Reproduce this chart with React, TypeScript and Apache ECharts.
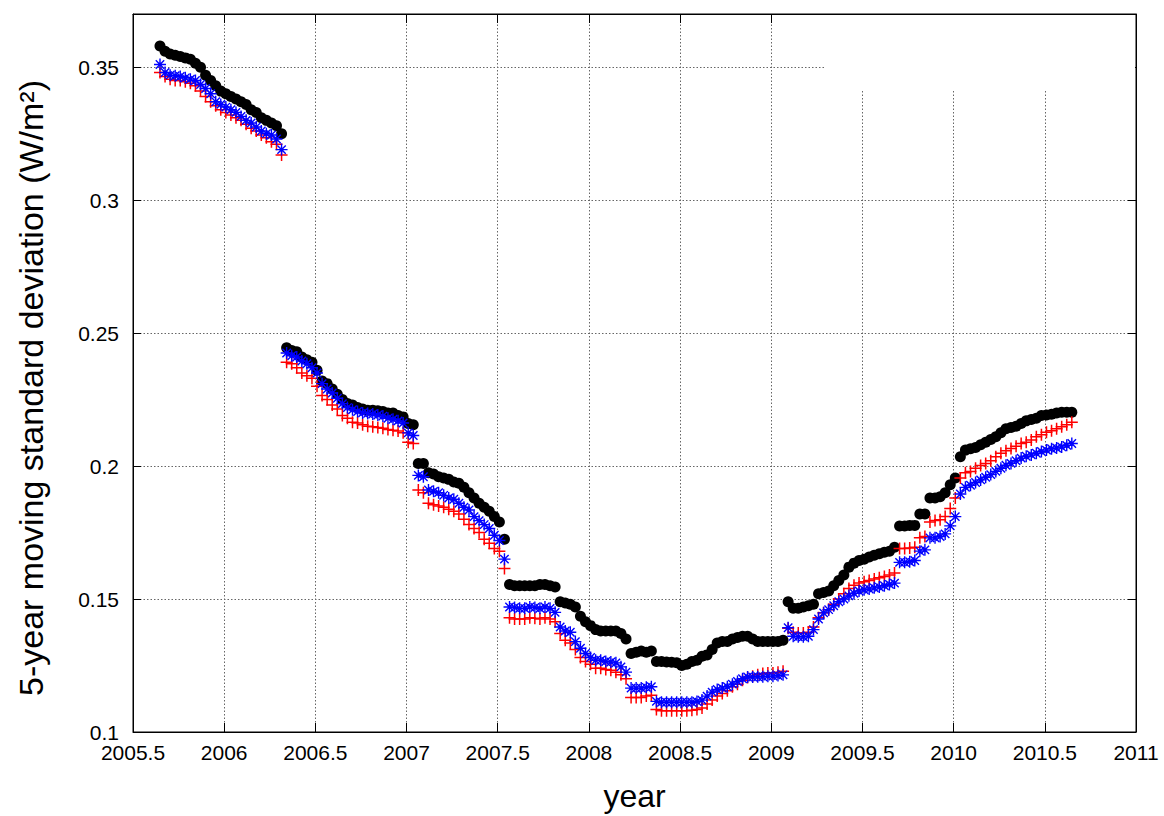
import React, { useEffect, useRef } from "react";
import * as echarts from "echarts";

// time axis: dekadal samples (36 per year) starting at START_YEAR
const START_YEAR = 2005.648;
const STEP_YEAR = 1 / 36;

// black filled circles
const seriesBlack = [
  0.358, 0.356, 0.355, 0.3545, 0.354, 0.3535, 0.353, 0.3515, 0.35, 0.347, 0.345, 0.343, 0.341, 0.34, 0.339, 0.338, 0.337, 0.336, 0.334, 0.333, 0.331, 0.33, 0.329, 0.328, 0.325,
  0.2445, 0.2435, 0.243, 0.241, 0.24, 0.239, 0.236, 0.232, 0.231, 0.229, 0.227, 0.225, 0.2235, 0.223, 0.222, 0.2215, 0.221, 0.221, 0.2208, 0.2205, 0.22, 0.22, 0.219, 0.2185, 0.216, 0.2155,
  0.201, 0.201, 0.1975, 0.197, 0.196, 0.1955, 0.195, 0.194, 0.1935, 0.192, 0.19, 0.188, 0.186, 0.1845, 0.183, 0.181, 0.179, 0.1725,
  0.1555, 0.155, 0.155, 0.155, 0.155, 0.155, 0.1555, 0.1555, 0.155, 0.1545,
  0.149, 0.1485, 0.148, 0.147, 0.1435, 0.1415, 0.14, 0.1385, 0.138, 0.138,
  0.138, 0.138, 0.137, 0.135, 0.1295, 0.13, 0.1305, 0.13, 0.1305, 0.1265,
  0.1265, 0.1263, 0.1262, 0.126, 0.125, 0.1255, 0.1265, 0.127, 0.1285, 0.129,
  0.131, 0.1335, 0.134, 0.134, 0.135, 0.1355, 0.136, 0.136, 0.135, 0.134,
  0.134, 0.134, 0.134, 0.134, 0.1345,
  0.149, 0.1465, 0.1465, 0.147, 0.1475, 0.148, 0.152, 0.1525, 0.153, 0.155,
  0.157, 0.159, 0.162, 0.1635, 0.1645, 0.165, 0.1658, 0.1665, 0.167, 0.1676,
  0.168, 0.1695, 0.1775, 0.1775, 0.1777, 0.1777, 0.182, 0.182, 0.188, 0.188,
  0.1885, 0.19, 0.193, 0.1955, 0.2035, 0.206, 0.2065, 0.207, 0.208, 0.209,
  0.21, 0.211, 0.2125, 0.214, 0.2145, 0.215, 0.216, 0.217, 0.2175, 0.218,
  0.219, 0.2192, 0.2195, 0.22, 0.2202, 0.2202, 0.2202,
];

// red plus markers
const seriesRed = [
  0.348, 0.3465, 0.3455, 0.345, 0.345, 0.3445, 0.344, 0.343, 0.341, 0.339, 0.337, 0.3355, 0.334, 0.333, 0.332, 0.331, 0.33, 0.3285, 0.327, 0.326, 0.3245, 0.3235, 0.322, 0.321, 0.317,
  0.239, 0.2385, 0.237, 0.235, 0.234, 0.233, 0.23, 0.2265, 0.225, 0.223, 0.2215, 0.219, 0.218, 0.2165, 0.2162, 0.2155, 0.215, 0.2148, 0.2145, 0.2142, 0.2138, 0.2135, 0.2132, 0.2125, 0.209, 0.2085,
  0.191, 0.19, 0.186, 0.1855, 0.185, 0.1845, 0.1838, 0.183, 0.182, 0.18, 0.178, 0.1765, 0.175, 0.1725, 0.171, 0.169, 0.168, 0.1615,
  0.143, 0.1425, 0.1425, 0.1425, 0.143, 0.1428, 0.1425, 0.143, 0.1425, 0.1415,
  0.137, 0.1345, 0.1335, 0.131, 0.128, 0.1265, 0.1255, 0.124, 0.124, 0.1235,
  0.1232, 0.1225, 0.1215, 0.12, 0.113, 0.113, 0.113, 0.1135, 0.1138, 0.1085,
  0.108, 0.108, 0.108, 0.108, 0.108, 0.108, 0.1082, 0.1085, 0.109, 0.1105,
  0.112, 0.1135, 0.1145, 0.1155, 0.117, 0.118, 0.1195, 0.1205, 0.121, 0.1215,
  0.122, 0.1222, 0.1222, 0.1225, 0.1228,
  0.139, 0.1375, 0.1372, 0.1372, 0.1375, 0.1395, 0.143, 0.1448, 0.146, 0.148,
  0.15, 0.152, 0.154, 0.1552, 0.156, 0.1565, 0.157, 0.1575, 0.158, 0.1585,
  0.159, 0.1598, 0.169, 0.169, 0.1692, 0.1695, 0.173, 0.1735, 0.179, 0.1795,
  0.1798, 0.181, 0.184, 0.188, 0.1955, 0.1975, 0.198, 0.1992, 0.2002, 0.201,
  0.202, 0.2035, 0.2048, 0.2058, 0.2066, 0.2075, 0.2085, 0.209, 0.2098, 0.211,
  0.2118, 0.2127, 0.2133, 0.214, 0.2148, 0.2155, 0.2165,
];

// blue asterisk markers
const seriesBlue = [
  0.351, 0.348, 0.347, 0.3468, 0.3465, 0.346, 0.3455, 0.345, 0.3435, 0.342, 0.34, 0.337, 0.336, 0.335, 0.334, 0.333, 0.3315, 0.33, 0.329, 0.3275, 0.326, 0.325, 0.3245, 0.323, 0.319,
  0.2425, 0.2415, 0.241, 0.2395, 0.2385, 0.237, 0.235, 0.231, 0.229, 0.2275, 0.2255, 0.2235, 0.222, 0.2212, 0.2205, 0.22, 0.2198, 0.2196, 0.2192, 0.2188, 0.218, 0.2176, 0.217, 0.2162, 0.2125, 0.2115,
  0.1965, 0.196, 0.191, 0.1905, 0.19, 0.189, 0.188, 0.1875, 0.186, 0.1845, 0.1835, 0.181, 0.1795, 0.178, 0.1765, 0.174, 0.172, 0.165,
  0.147, 0.1468, 0.1465, 0.1465, 0.147, 0.1468, 0.1465, 0.147, 0.1465, 0.145,
  0.1395, 0.138, 0.1375, 0.134, 0.1315, 0.1295, 0.128, 0.127, 0.127, 0.1265,
  0.1263, 0.126, 0.1245, 0.1225, 0.1165, 0.1165, 0.1165, 0.1168, 0.117, 0.1115,
  0.1112, 0.1112, 0.1112, 0.1112, 0.1112, 0.1112, 0.1112, 0.1115, 0.112, 0.1135,
  0.115, 0.116, 0.1165, 0.117, 0.118, 0.119, 0.12, 0.1207, 0.1207, 0.1208,
  0.1208, 0.121, 0.121, 0.1212, 0.1215,
  0.1392, 0.136, 0.1358, 0.1358, 0.136, 0.1385, 0.1425, 0.1448, 0.146, 0.1475,
  0.149, 0.15, 0.1512, 0.1522, 0.153, 0.1535, 0.1538, 0.1542, 0.1545, 0.155,
  0.1555, 0.156, 0.1638, 0.1638, 0.164, 0.1645, 0.168, 0.1685, 0.173, 0.173,
  0.1735, 0.1745, 0.1775, 0.181, 0.1895, 0.192, 0.1928, 0.1938, 0.1948, 0.1958,
  0.1968, 0.198, 0.1992, 0.2003, 0.201, 0.202, 0.203, 0.2037, 0.2042, 0.2048,
  0.2055, 0.206, 0.2065, 0.2068, 0.2072, 0.2078, 0.2085,
];

const X_MIN = 2005.5;
const X_MAX = 2011;
const X_INTERVAL = 0.5;
const Y_MIN = 0.1;
const Y_MAX = 0.37;
const Y_INTERVAL = 0.05;

const Y_TITLE = "5-year moving standard deviation (W/m²)";
const X_TITLE = "year";

const FONT = "'Liberation Sans', Arial, Helvetica, sans-serif";

const toPoints = (vals: number[]) => vals.map((v, i) => [START_YEAR + i * STEP_YEAR, v]);
const fmt = (v: number) => String(Math.round(v * 1000) / 1000);

export default function App() {
  const ref = useRef<HTMLDivElement>(null);

  useEffect(() => {
    if (!ref.current) return;
    const chart = echarts.init(ref.current, undefined, { renderer: "svg" });

    const gridDash = { color: "#666666", width: 1, type: [1.5, 2] as any };
    const axisCommonX = {
      type: "value" as const,
      min: X_MIN,
      max: X_MAX,
      interval: X_INTERVAL,
    };
    const axisCommonY = {
      type: "value" as const,
      min: Y_MIN,
      max: Y_MAX,
      interval: Y_INTERVAL,
    };

    chart.setOption({
      animation: false,
      backgroundColor: "#ffffff",
      grid: {
        left: 133,
        right: 28,
        top: 14,
        bottom: 84,
        show: true,
        borderColor: "#000",
        borderWidth: 1,
        containLabel: false,
      },
      xAxis: [
        {
          ...axisCommonX,
          position: "bottom",
          axisLine: { show: true, onZero: false, lineStyle: { color: "#000", width: 1 } },
          axisTick: { show: true, inside: true, length: 9, lineStyle: { color: "#000" } },
          axisLabel: {
            show: true,
            color: "#000",
            fontSize: 21,
            fontFamily: FONT,
            margin: 10,
            showMaxLabel: true,
            showMinLabel: true,
            formatter: fmt,
          },
          splitLine: { show: true, lineStyle: gridDash },
        },
        {
          ...axisCommonX,
          position: "top",
          axisLine: { show: true, onZero: false, lineStyle: { color: "#000", width: 1 } },
          axisTick: { show: true, inside: true, length: 9, lineStyle: { color: "#000" } },
          axisLabel: { show: false },
          splitLine: { show: false },
        },
      ],
      yAxis: [
        {
          ...axisCommonY,
          position: "left",
          axisLine: { show: true, onZero: false, lineStyle: { color: "#000", width: 1 } },
          axisTick: { show: true, inside: true, length: 8, lineStyle: { color: "#000" } },
          axisLabel: {
            show: true,
            color: "#000",
            fontSize: 21,
            fontFamily: FONT,
            margin: 14,
            showMaxLabel: false,
            formatter: fmt,
          },
          splitLine: { show: true, lineStyle: gridDash },
        },
        {
          ...axisCommonY,
          position: "right",
          axisLine: { show: true, onZero: false, lineStyle: { color: "#000", width: 1 } },
          axisTick: { show: true, inside: true, length: 8, lineStyle: { color: "#000" } },
          axisLabel: { show: false },
          splitLine: { show: false },
        },
      ],
      graphic: [
        {
          type: "rect",
          z: 1,
          shape: { x: 826, y: 15, width: 309, height: 76 },
          style: { fill: "#ffffff" },
          silent: true,
        },
        {
          type: "text",
          x: 31,
          y: 388,
          rotation: Math.PI / 2,
          style: {
            text: Y_TITLE,
            fontSize: 34,
            fontFamily: FONT,
            fill: "#000",
            align: "center",
            verticalAlign: "middle",
          },
        },
        {
          type: "text",
          x: 634.5,
          y: 796,
          style: {
            text: X_TITLE,
            fontSize: 32,
            fontFamily: FONT,
            fill: "#000",
            align: "center",
            verticalAlign: "middle",
          },
        },
      ],
      series: [
        {
          type: "scatter",
          name: "black",
          xAxisIndex: 0,
          yAxisIndex: 0,
          data: toPoints(seriesBlack),
          symbol: "circle",
          symbolSize: 11,
          itemStyle: { color: "#000000", opacity: 1 },
          z: 2,
        },
        {
          type: "scatter",
          name: "red",
          xAxisIndex: 0,
          yAxisIndex: 0,
          data: toPoints(seriesRed),
          symbol: "path://M0,5L10,5M5,0L5,10",
          symbolSize: 12,
          itemStyle: { color: "rgba(0,0,0,0)", borderColor: "#ff0000", borderWidth: 1.5, opacity: 1 },
          z: 3,
        },
        {
          type: "scatter",
          name: "blue",
          xAxisIndex: 0,
          yAxisIndex: 0,
          data: toPoints(seriesBlue),
          symbol: "path://M0,5L10,5M5,0L5,10M1.5,1.5L8.5,8.5M1.5,8.5L8.5,1.5",
          symbolSize: 12,
          itemStyle: { color: "rgba(0,0,0,0)", borderColor: "#0000ff", borderWidth: 1.4, opacity: 1 },
          z: 4,
        },
      ],
    });

    return () => {
      chart.dispose();
    };
  }, []);

  return (
    <div
      ref={ref}
      style={{ position: "absolute", left: 0, top: 0, width: 1164, height: 816, background: "#fff" }}
    />
  );
}
